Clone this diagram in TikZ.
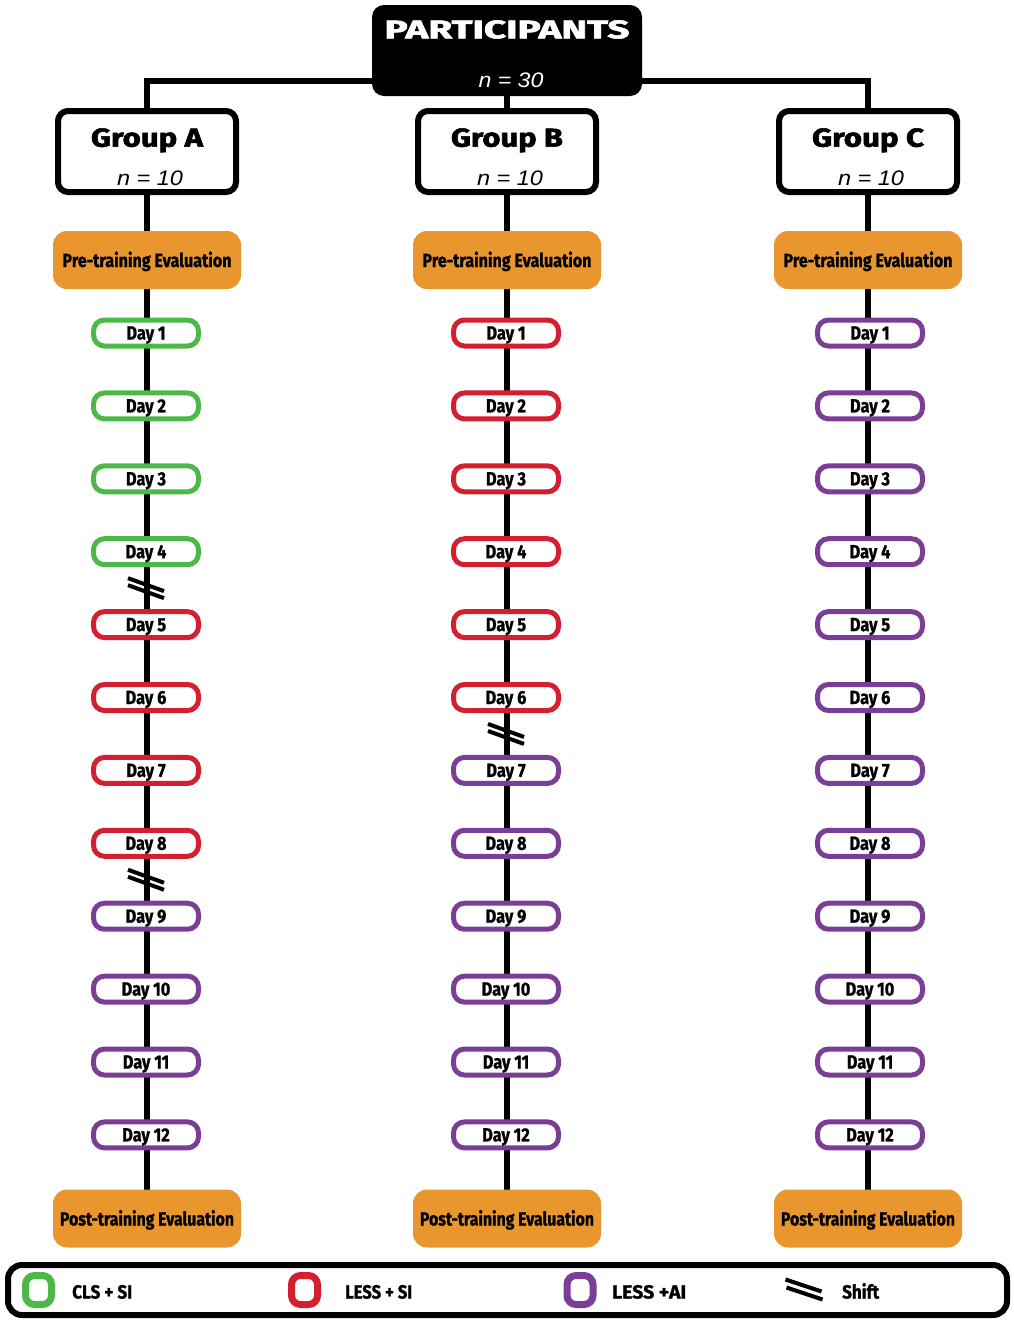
\documentclass[tikz,border=0pt]{standalone}
\usepackage{fontspec}
\usepackage{graphicx}
\setmainfont{Fira Sans}[BoldFeatures={FakeBold=1.2}]
\newfontfamily\heavyfont{Fira Sans}[UprightFeatures={FakeBold=2}, BoldFeatures={FakeBold=2}]
\newfontfamily\nfont{Liberation Sans}
\usetikzlibrary{backgrounds,calc}
\definecolor{cgreen}{HTML}{4DB848}
\definecolor{cred}{HTML}{D31F2F}
\definecolor{cpurple}{HTML}{7A3E97}
\definecolor{corange}{HTML}{E9962F}
% fit text to a width, keeping natural height
\newcommand\fitb[3]{\resizebox{#1pt}{\height}{\fontsize{#2}{#2}\selectfont\bfseries #3}}
\newcommand\fith[3]{\resizebox{#1pt}{\height}{\fontsize{#2}{#2}\selectfont\heavyfont\bfseries #3}}
\newcommand\fitn[3]{\resizebox{#1pt}{\height}{\fontsize{#2}{#2}\selectfont\nfont\itshape #3}}
\newcommand\dayt[1]{\scalebox{0.86}[1]{\fontsize{19}{19}\selectfont\bfseries Day #1}}
\tikzset{
  conn/.style={line width=6pt, draw=black},
  pbox/.style={fill=black, rounded corners=12pt, minimum width=270pt, minimum height=91pt, inner sep=0pt},
  grpbox/.style={draw=black, line width=6pt, fill=white, rounded corners=10pt, minimum width=178pt, minimum height=81pt, inner sep=0pt},
  evalbox/.style={fill=corange, rounded corners=14pt, minimum width=188pt, minimum height=58pt, inner sep=0pt, text height=14pt, text depth=0pt},
  daybox/.style={draw=#1, line width=5pt, fill=white, rounded corners=11pt, minimum width=105pt, minimum height=26pt, inner sep=0pt, text height=13pt, text depth=0pt},
  txt/.style={inner sep=0pt, anchor=base},
  shiftmark/.style={line width=4pt, draw=black},
  legbox/.style={draw=black, line width=6pt, rounded corners=14pt, minimum width=999pt, minimum height=50pt, inner sep=0pt},
  legsq/.style={draw=#1, line width=7pt, rounded corners=9pt, minimum width=26pt, minimum height=29pt, inner sep=0pt},
  legtxt/.style={inner sep=0pt, text height=13pt, text depth=0pt}
}
\begin{document}
\begin{tikzpicture}[x=1pt, y=-1pt]
\useasboundingbox (0,0) rectangle (1014,1323);

% header
\node[pbox] (P) at (507,50.5) {};
\node[txt, text=white] (Pt) at (507,38.3) {\fith{245}{25.5}{PARTICIPANTS}};
\node[txt, text=white] (Pn) at (511,87) {\fitn{65}{21}{n = 30}};
\coordinate (hl) at (507,81);

% groups
\foreach \g/\x/\L in {A/147/A, B/507/B, C/868/C}{
  \node[grpbox] (g\g) at (\x,151.5) {};
  \node[txt] (g\g t) at (\x,146.7) {\fith{112}{26}{Group \L}};
  \node[txt] (g\g n) at (\x+3,185) {\fitn{66}{21}{n = 10}};
  \node[evalbox] (pre\g) at (\x,260) {\fitb{169}{19}{Pre-training Evaluation}};
  \node[evalbox] (post\g) at (\x,1218.5) {\fitb{174}{19}{Post-training Evaluation}};
}

% day boxes
\foreach \i/\c in {1/cgreen,2/cgreen,3/cgreen,4/cgreen,5/cred,6/cred,7/cred,8/cred,9/cpurple,10/cpurple,11/cpurple,12/cpurple}{
  \node[daybox=\c] (dA\i) at (146,{333+(\i-1)*72.9}) {\dayt{\i}};
}
\foreach \i/\c in {1/cred,2/cred,3/cred,4/cred,5/cred,6/cred,7/cpurple,8/cpurple,9/cpurple,10/cpurple,11/cpurple,12/cpurple}{
  \node[daybox=\c] (dB\i) at (506,{333+(\i-1)*72.9}) {\dayt{\i}};
}
\foreach \i in {1,...,12}{
  \node[daybox=cpurple] (dC\i) at (870,{333+(\i-1)*72.9}) {\dayt{\i}};
}

% connectors
\begin{scope}[on background layer]
  \draw[conn] (gA.center) |- (hl) -| (gC.center);
  \draw[conn] (P.center) -- (gB.center);
  \draw[conn] (gA.center) -- (postA.center);
  \draw[conn] (gB.center) -- (postB.center);
  \draw[conn] (gC.center) -- (postC.center);
\end{scope}

% shift marks
\coordinate (sA1) at ($(dA4)!0.5!(dA5)$);
\coordinate (sA2) at ($(dA8)!0.5!(dA9)$);
\coordinate (sB1) at ($(dB6)!0.5!(dB7)$);
\foreach \s in {sA1,sA2,sB1}{
  \draw[shiftmark] ($(\s)+(-18,-10)$) -- ($(\s)+(18,3)$);
  \draw[shiftmark] ($(\s)+(-18,-3)$) -- ($(\s)+(18,10)$);
}

% legend
\node[legbox] (leg) at (507.5,1290) {};
\node[legsq=cgreen] (lg1) at (38.5,1290) {};
\node[legtxt, anchor=west] (lt1) at (72,1292) {\fitb{60}{19}{CLS + SI}};
\node[legsq=cred] (lg2) at (304.5,1290) {};
\node[legtxt, anchor=west] (lt2) at (345,1292) {\fitb{67}{19}{LESS + SI}};
\node[legsq=cpurple] (lg3) at (580,1290) {};
\node[legtxt, anchor=west] (lt3) at (612,1292) {\fitb{74}{19}{LESS +AI}};
\coordinate (ls) at (803.5,1289.5);
\draw[shiftmark] ($(ls)+(-18,-10)$) -- ($(ls)+(18,2)$);
\draw[shiftmark] ($(ls)+(-17,-2)$) -- ($(ls)+(19,10)$);
\node[legtxt, anchor=west] (lt4) at (842,1292) {\fitb{37}{19}{Shift}};
\end{tikzpicture}
\end{document}
